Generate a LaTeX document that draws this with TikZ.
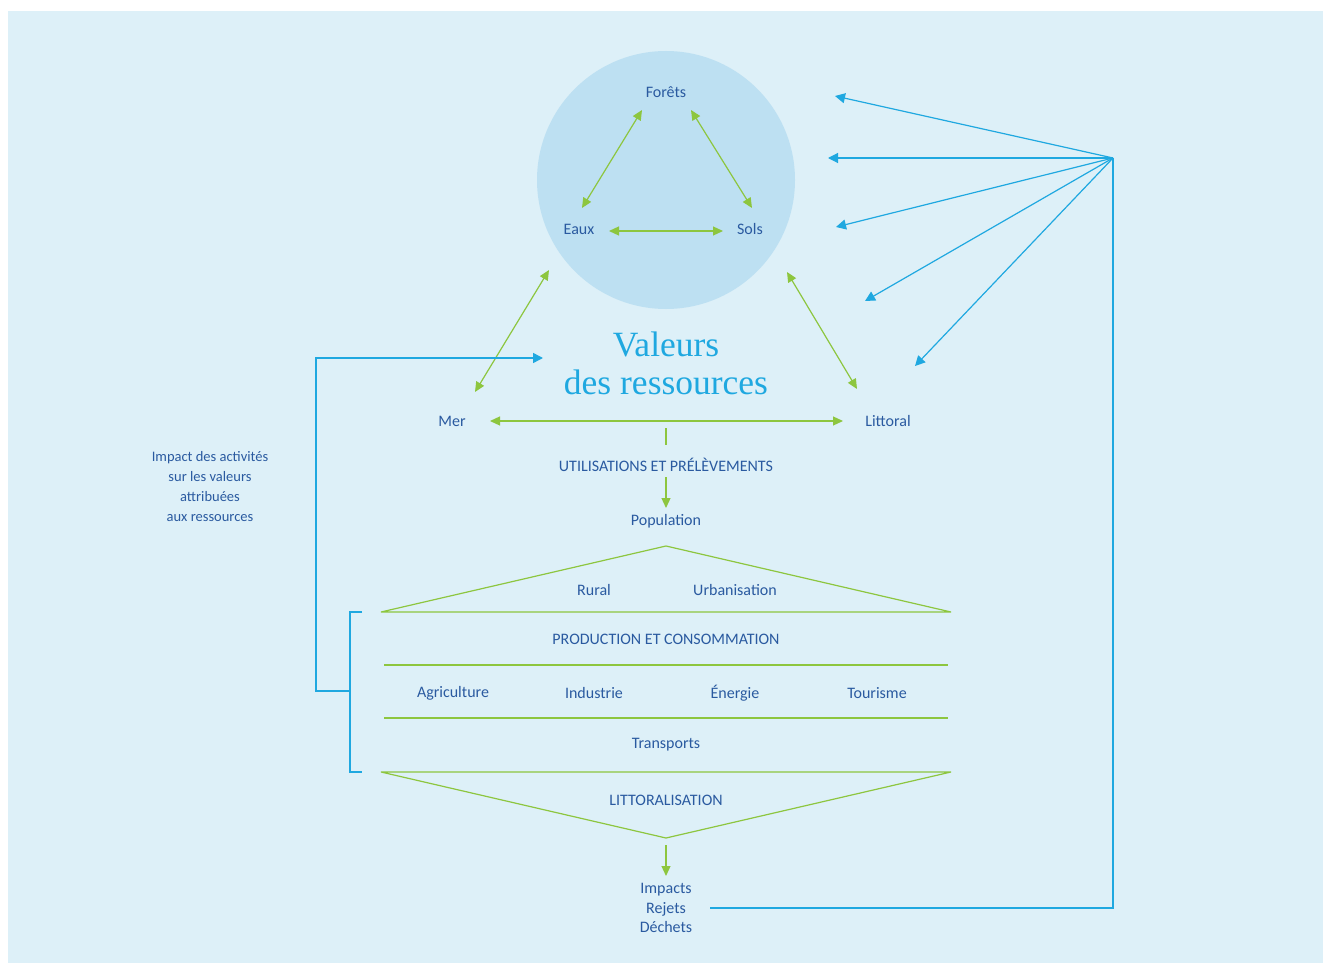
\documentclass[tikz,border=0pt]{standalone}
\usepackage{fontspec}
\setmainfont{Carlito}
\newfontfamily\titlefont{Liberation Serif}
\usetikzlibrary{arrows.meta,calc}
\definecolor{bgblue}{HTML}{DDF0F8}
\definecolor{circblue}{HTML}{BDE0F2}
\definecolor{leafgreen}{HTML}{8DC63F}
\definecolor{linkblue}{HTML}{1FA8E0}
\definecolor{inkblue}{HTML}{2A5AA0}

\begin{document}
\begin{tikzpicture}[x=1pt,y=-1pt,
every node/.style={text=inkblue,font=\fontsize{16}{19.5}\selectfont,inner sep=2pt},
gline/.style={draw=leafgreen,line width=1.2pt,line join=bevel},
garrow/.style={gline,-{Triangle[length=10pt,width=9pt]}},
gboth/.style={gline,{Triangle[length=10pt,width=9pt]}-{Triangle[length=10pt,width=9pt]}},
bline/.style={draw=linkblue,line width=1.5pt},
barrow/.style={draw=linkblue,line width=1.2pt,-{Triangle[length=10pt,width=10pt]}}]
\useasboundingbox (0,0) rectangle (1323,963);
\fill[bgblue] (8,11) rectangle (1323,963);
\node[circle,fill=circblue,minimum size=258pt,inner sep=0pt] (res) at (666,180) {};

\node (foret) at (666,92) {Forêts};
\node (eaux) at (579,229) {Eaux};
\node (sols) at (750,229) {Sols};
\draw[gboth] ($(eaux)+(3,-21)$) -- ($(foret)+(-24,18)$);
\draw[gboth] ($(foret)+(25,18)$) -- ($(sols)+(2,-21)$);
\draw[gboth] ($(eaux)+(30,2)$) -- ($(sols)+(-27,2)$);

\node[font=\titlefont\fontsize{35.5}{38}\selectfont,text=linkblue,align=center] (val) at (666,363) {Valeurs\\des ressources};
\node (mer) at (452,421) {Mer};
\node (litt) at (888,421) {Littoral};
\draw[gboth] ($(res)+(-117,90)$) -- ($(mer)+(23,-29)$);
\draw[gboth] ($(res)+(121,92)$) -- ($(litt)+(-31,-32)$);
\draw[gboth] ($(mer)+(38,0)$) -- ($(litt)+(-45,0)$);

\node (util) at (666,465) {UTILISATIONS ET PRÉLÈVEMENTS};
\node (pop) at (666,521) {Population};
\draw[gline] ($(util)+(0,-37)$) -- ($(util)+(0,-20)$);
\draw[garrow] ($(util)+(0,12)$) -- ($(pop)+(0,-13)$);

\coordinate (apexT) at (666,546);
\coordinate (tl) at (381,612);
\coordinate (tr) at (951,612);
\coordinate (bl) at (381,772);
\coordinate (br) at (951,772);
\coordinate (apexB) at (666,838);
\draw[gline] (tl) -- (apexT) -- (tr) -- cycle;
\draw[gline] (384,665) -- (948,665);
\draw[gline] (384,718) -- (948,718);
\draw[gline] (bl) -- (br) -- (apexB) -- cycle;

\node (rural) at (594,590) {Rural};
\node (urba) at (735,590) {Urbanisation};
\node (prod) at (666,639) {PRODUCTION ET CONSOMMATION};
\node (agri) at (453,693) {Agriculture};
\node (indu) at (594,693) {Industrie};
\node (ener) at (735,693) {Énergie};
\node (tour) at (877,693) {Tourisme};
\node (trans) at (666,745) {Transports};
\node (littor) at (666,800) {LITTORALISATION};

\node[align=center] (imp) at (666,908) {Impacts\\Rejets\\Déchets};
\draw[garrow] ($(apexB)+(0,7)$) -- ($(imp)+(0,-32)$);

\coordinate (hub) at (1113,158);
\draw[bline] ($(imp)+(44,0)$) -| (hub);
\foreach \n/\p in {1/{835,96},2/{828,158},3/{836,227},4/{865,301},5/{915,366}}
  \coordinate (f\n) at (\p);
\foreach \n in {1,...,5}
  \draw[barrow] (hub) -- (f\n);

\node[align=center,font=\fontsize{14.5}{20}\selectfont] (impact) at (210,487) {Impact des activités\\sur les valeurs\\attribuées\\aux ressources};
\coordinate (brtop) at (362,612);
\coordinate (brbot) at (362,772);
\coordinate (brmid) at (350,691);
\coordinate (valin) at (543,358);
\draw[bline] (brtop) -- (350,612) -- (350,772) -- (brbot);
\draw[bline,-{Triangle[length=10pt,width=10pt]}] (brmid) -- (316,691) |- (valin);
\end{tikzpicture}
\end{document}
